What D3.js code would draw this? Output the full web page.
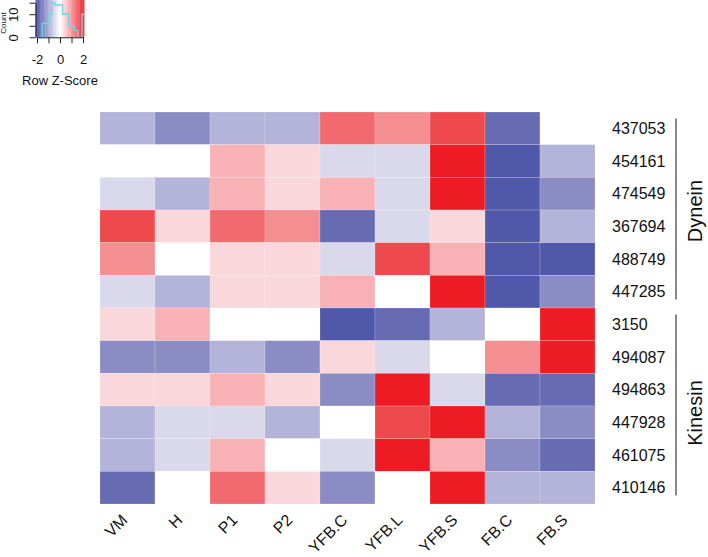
<!DOCTYPE html>
<html>
<head>
<meta charset="utf-8">
<script src="https://cdn.jsdelivr.net/npm/d3@7"></script>
<style>
  html, body { margin: 0; padding: 0; background: #fff; }
  svg { display: block; font-family: "Liberation Sans", Arial, Helvetica, sans-serif; }
</style>
</head>
<body>
<svg id="chart" width="708" height="557"></svg>
<script>
// ---------------- data ----------------
const samples = ["VM", "H", "P1", "P2", "YFB.C", "YFB.L", "YFB.S", "FB.C", "FB.S"];
const genes = ["437053", "454161", "474549", "367694", "488749", "447285",
               "3150", "494087", "494863", "447928", "461075", "410146"];
const groups = [
  { name: "Dynein", first: "437053", last: "447285" },
  { name: "Kinesin", first: "3150", last: "410146" }
];
// row z-scores, one array per gene, columns in `samples` order
const zscores = [
  [-0.7, -1.1, -0.7, -0.7,  1.2,  0.9,  1.5, -1.5,  0.0],
  [ 0.0,  0.0,  0.6,  0.3, -0.35,-0.35, 1.9, -1.9, -0.7],
  [-0.35,-0.7,  0.6,  0.3,  0.6, -0.35, 1.9, -1.9, -1.1],
  [ 1.5,  0.3,  1.2,  0.9, -1.5, -0.35, 0.3, -1.9, -0.7],
  [ 0.9,  0.0,  0.3,  0.3, -0.35, 1.5,  0.6, -1.9, -1.9],
  [-0.35,-0.7,  0.3,  0.3,  0.6,  0.0,  1.9, -1.9, -1.1],
  [ 0.3,  0.6,  0.0,  0.0, -1.9, -1.5, -0.7,  0.0,  1.9],
  [-1.1, -1.1, -0.7, -1.1,  0.3, -0.35, 0.0,  0.9,  1.9],
  [ 0.3,  0.3,  0.6,  0.3, -1.1,  1.9, -0.35,-1.5, -1.5],
  [-0.7, -0.35,-0.35,-0.7,  0.0,  1.5,  1.9, -0.7, -1.1],
  [-0.7, -0.35, 0.6,  0.0, -0.35, 1.9,  0.6, -1.1, -1.5],
  [-1.5,  0.0,  1.2,  0.3, -1.1,  0.0,  1.9, -0.7, -0.7]
];
const colorBreaks = [-1.7, -1.3, -0.9, -0.5, -0.15, 0.15, 0.45, 0.75, 1.05, 1.35, 1.7];
const colorSteps = ["#5059A9", "#676BB2", "#8C8CC4", "#B4B3DA", "#DAD8EB", "#FFFFFF",
                    "#FAD7DB", "#F8B1B5", "#F48E91", "#F16A70", "#EE4A4E", "#ED1C24"];
// colour key histogram
const histEdges = [-2.13, -1.54, -1.02, -0.72, -0.46, 0.23, 0.76, 1.24, 1.54, 1.91, 2.09];
const histCounts = [0, 6, 10, 15, 14, 10, 5, 3, 0, 10];
const keyTicks = [-2, -1, 0, 1, 2];
const keyTickLabels = ["-2", "", "0", "", "2"];
const countTicks = [0, 5, 10, 15];
const countTickLabels = ["0", "", "10", ""];

// ---------------- drawing ----------------
const svg = d3.select("#chart");
const font = '"Liberation Sans", Arial, Helvetica, sans-serif';

const x = d3.scaleBand().domain(samples).range([100, 595]).paddingInner(0).paddingOuter(0);
const y = d3.scaleBand().domain(genes).range([112, 504]).paddingInner(0).paddingOuter(0);
const color = d3.scaleThreshold().domain(colorBreaks).range(colorSteps);

const cells = [];
genes.forEach((g, i) => samples.forEach((s, j) => cells.push({ gene: g, sample: s, v: zscores[i][j] })));

svg.append("g").selectAll("rect").data(cells).join("rect")
  .attr("x", d => x(d.sample))
  .attr("y", d => y(d.gene))
  .attr("width", x.bandwidth())
  .attr("height", y.bandwidth())
  .attr("fill", d => color(d.v))
  .attr("stroke", "#ffffff")
  .attr("stroke-opacity", 0.3)
  .attr("stroke-width", 0.6);

// row labels
svg.append("g").selectAll("text").data(genes).join("text")
  .attr("x", 612)
  .attr("y", d => y(d) + y.bandwidth() / 2)
  .attr("dy", "0.36em")
  .attr("font-size", 16)
  .attr("fill", "#111")
  .text(d => d);

// column labels (rotated)
svg.append("g").selectAll("text").data(samples).join("text")
  .attr("transform", d => `translate(${x(d) + x.bandwidth() / 2 + 1},521) rotate(-45)`)
  .attr("text-anchor", "end")
  .attr("font-size", 16)
  .attr("fill", "#111")
  .text(d => d);

// group brackets
const grpOffset = [1, 7];
const gG = svg.append("g");
groups.forEach((g, k) => {
  const y0 = y(g.first) + 6.5;
  const y1 = y(g.last) + y.bandwidth() - 8.5;
  gG.append("line")
    .attr("x1", 676).attr("x2", 676).attr("y1", y0).attr("y2", y1)
    .attr("stroke", "#111").attr("stroke-width", 1);
  const cy = (y(g.first) + y(g.last) + y.bandwidth()) / 2 + grpOffset[k];
  gG.append("text")
    .attr("transform", `translate(695,${cy}) rotate(-90)`)
    .attr("text-anchor", "middle")
    .attr("dy", "0.36em")
    .attr("font-size", 20)
    .attr("fill", "#111")
    .text(g.name);
});

// ---------------- colour key ----------------
const kx = d3.scaleLinear().domain([-2, 2]).range([37, 83]);
const ky = d3.scaleLinear().domain([0, 15]).range([37.3, 2.7]);
const key = svg.append("g");
const keyColor = d3.scaleLinear().domain([-2.13, 0, 2.09])
  .range(["#4A54A6", "#FFFFFF", "#EE2A30"]).interpolate(d3.interpolateRgb);
const nSteps = 60;
const kz0 = histEdges[0], kz1 = histEdges[histEdges.length - 1];
const stepZ = d3.range(nSteps).map(i => kz0 + (kz1 - kz0) * i / nSteps);
key.selectAll("rect.k").data(stepZ).join("rect")
  .attr("class", "k")
  .attr("x", d => kx(d))
  .attr("y", -2)
  .attr("width", (kx(kz1) - kx(kz0)) / nSteps + 0.4)
  .attr("height", ky(0) + 2)
  .attr("fill", d => keyColor(d + (kz1 - kz0) / nSteps / 2));

// histogram step line
const histPts = [];
histCounts.forEach((c, i) => {
  histPts.push([kx(histEdges[i]), ky(c)]);
  histPts.push([kx(histEdges[i + 1]), ky(c)]);
});
key.append("path")
  .attr("d", d3.line()(histPts))
  .attr("fill", "none")
  .attr("stroke", "#6fd4e6")
  .attr("stroke-width", 1.3);

// left axis (Count)
const axL = key.append("g").attr("transform", `translate(${kx(kz0)},0)`)
  .call(d3.axisLeft(ky).tickValues(countTicks).tickFormat((d, i) => countTickLabels[i]).tickSize(6).tickSizeOuter(0));
axL.select(".domain").attr("stroke", "#222");
axL.selectAll(".tick line").attr("stroke", "#222");
axL.selectAll(".tick text")
  .attr("font-family", font).attr("font-size", 13).attr("fill", "#111")
  .attr("text-anchor", "middle")
  .attr("x", 0).attr("y", 0)
  .attr("transform", "translate(-22,0) rotate(-90)")
  .attr("dy", "0.36em");
key.append("text")
  .attr("transform", `translate(4,23) rotate(-90)`)
  .attr("text-anchor", "middle")
  .attr("dy", "0.3em")
  .attr("font-size", 8)
  .attr("fill", "#111")
  .text("Count");

// bottom axis (Row Z-Score)
const axB = key.append("g").attr("transform", `translate(0,${ky(0)})`)
  .call(d3.axisBottom(kx).tickValues(keyTicks).tickFormat((d, i) => keyTickLabels[i]).tickSize(6).tickSizeOuter(0));
axB.select(".domain").attr("stroke", "#222");
axB.selectAll(".tick line").attr("stroke", "#222");
axB.selectAll(".tick text")
  .attr("font-family", font).attr("font-size", 13).attr("fill", "#111")
  .attr("y", 17);
key.append("text")
  .attr("x", 60).attr("y", 85)
  .attr("text-anchor", "middle")
  .attr("font-size", 13)
  .attr("fill", "#111")
  .text("Row Z-Score");
</script>
</body>
</html>
